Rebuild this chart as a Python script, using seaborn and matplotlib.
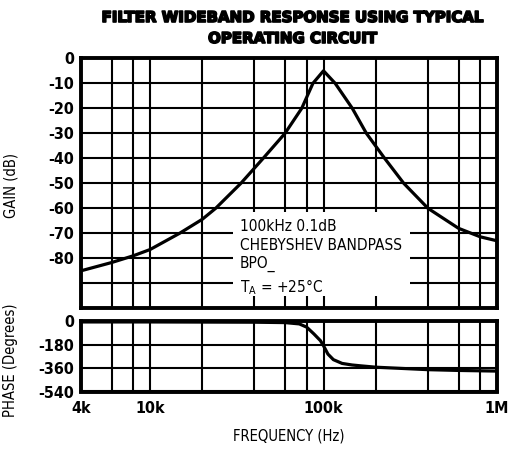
import matplotlib
matplotlib.use("Agg")
import matplotlib.pyplot as plt
import seaborn as sns
import pandas as pd
from matplotlib.patches import Rectangle
from matplotlib.ticker import FixedLocator, NullFormatter
from matplotlib import font_manager as fm
import matplotlib.patheffects as pe

# ---------------- data ----------------
gain_freq = [4e3, 6e3, 8e3, 10e3, 14.8e3, 20e3, 23.9e3, 33.4e3, 44.9e3, 60e3,
             74.9e3, 86.9e3, 100e3, 116.7e3, 146.5e3, 176.6e3, 225e3, 290e3,
             400e3, 600e3, 800e3, 1e6]
gain_db = [-85, -81.7, -79, -76.5, -70, -64.4, -60, -50, -40, -30,
           -20, -10, -5, -10, -20, -30, -40, -50,
           -60, -68, -71.4, -73]

phase_freq = [4e3, 10e3, 20e3, 40e3, 60e3, 72.5e3, 80e3, 88e3, 96e3, 100e3,
              106e3, 114e3, 128e3, 146e3, 165e3, 200e3, 400e3, 600e3, 1e6]
phase_deg = [-5, -5, -6, -7, -10, -20, -45, -97, -149, -188,
             -252, -295, -324, -336, -343, -353, -372, -378, -383]

gain_ticks = [0, -10, -20, -30, -40, -50, -60, -70, -80, -90, -100]
gain_labels = ["0", "-10", "-20", "-30", "-40", "-50", "-60", "-70", "-80", "", ""]
phase_ticks = [0, -180, -360, -540]
phase_labels = ["0", "-180", "-360", "-540"]
x_major = [4e3, 10e3, 100e3, 1e6]
x_major_labels = ["4k", "10k", "100k", "1M"]
x_grid = [6e3, 8e3, 20e3, 40e3, 60e3, 80e3, 200e3, 400e3, 600e3, 800e3]

title_text = "FILTER WIDEBAND RESPONSE USING TYPICAL\nOPERATING CIRCUIT"
note_text = "100kHz 0.1dB\nCHEBYSHEV BANDPASS\nBPO_\nT$_\\mathregular{A}$ = +25°C"

# ---------------- styling ----------------
sns.set_style("white")

# pick a narrow font if one is installed
narrow_props = dict(family=["DejaVu Sans"], stretch="normal")
scale = 0.82
try:
    p = fm.findfont(fm.FontProperties(family="Liberation Sans Narrow"),
                    fallback_to_default=False)
    if "Narrow" in p:
        narrow_props = dict(family=["Liberation Sans Narrow", "DejaVu Sans"],
                            stretch="normal")
        scale = 1.0
except Exception:
    pass
if scale != 1.0:
    try:
        p = fm.findfont(fm.FontProperties(family="DejaVu Sans", stretch="condensed"),
                        fallback_to_default=False)
        if "Condensed" in p:
            narrow_props = dict(family=["DejaVu Sans"], stretch="condensed")
            scale = 0.92
    except Exception:
        pass

plt.rcParams["font.family"] = narrow_props["family"]
plt.rcParams["text.color"] = "black"
plt.rcParams["xtick.color"] = "black"
plt.rcParams["ytick.color"] = "black"
plt.rcParams["axes.labelcolor"] = "black"

W, H = 512, 451
fig = plt.figure(figsize=(W / 100, H / 100), dpi=100)

def fx(px):
    return px / W

def fy(py):
    return 1 - py / H

ax_g = fig.add_axes([fx(81), fy(308.3), fx(497) - fx(81), fy(58.3) - fy(308.3)])
ax_p = fig.add_axes([fx(81), fy(391.5), fx(497) - fx(81), fy(321.3) - fy(391.5)])

df_g = pd.DataFrame({"freq": gain_freq, "gain": gain_db})
df_p = pd.DataFrame({"freq": phase_freq, "phase": phase_deg})

sns.lineplot(data=df_g, x="freq", y="gain", ax=ax_g, color="black", lw=2.3,
             sort=False, zorder=5)
sns.lineplot(data=df_p, x="freq", y="phase", ax=ax_p, color="black", lw=2.3,
             sort=False, zorder=5)

tick_font = dict(family=narrow_props["family"], stretch=narrow_props["stretch"],
                 size=12.5 * scale, weight="bold", color="black")
label_font = dict(family=narrow_props["family"], stretch=narrow_props["stretch"],
                  size=11.5 * scale, color="black")

for ax in (ax_g, ax_p):
    ax.set_xscale("log")
    ax.set_xlim(4e3, 1e6)
    ax.xaxis.set_major_locator(FixedLocator(x_major))
    ax.xaxis.set_minor_locator(FixedLocator(x_grid))
    ax.xaxis.set_minor_formatter(NullFormatter())
    ax.grid(True, which="both", axis="x", color="black", lw=1.5)
    ax.grid(True, which="major", axis="y", color="black", lw=1.5)
    ax.tick_params(which="both", length=0, pad=5)
    for s in ax.spines.values():
        s.set_linewidth(2.8)
        s.set_color("black")
        s.set_visible(True)
    ax.set_axisbelow(True)

ax_g.set_ylim(-100, 0)
ax_g.set_yticks(gain_ticks)
ax_g.set_yticklabels(gain_labels, fontdict=tick_font)
ax_g.set_xticklabels([])
ax_g.set_xlabel("")
ax_g.set_ylabel("GAIN (dB)", fontdict=label_font)
ax_g.yaxis.set_label_coords((19 - 81) / 416, 0.49)

ax_p.set_ylim(-540, 0)
ax_p.set_yticks(phase_ticks)
ax_p.set_yticklabels(phase_labels, fontdict=tick_font)
ax_p.set_xticklabels(x_major_labels, fontdict=tick_font)
ax_p.tick_params(axis="x", pad=7)
ax_p.set_ylabel("PHASE (Degrees)", fontdict=label_font)
ax_p.yaxis.set_label_coords((18.5 - 81) / 416, 0.45)
ax_p.set_xlabel("FREQUENCY (Hz)", fontdict=label_font, labelpad=9)

# white box behind the annotation (hides the grid there)
ax_g.add_patch(Rectangle(((233 - 81) / 416, (308.3 - 296) / 250),
                         (410 - 233) / 416, (296 - 212) / 250,
                         transform=ax_g.transAxes, facecolor="white",
                         edgecolor="none", zorder=3))
ax_g.text((240 - 81) / 416, (308.3 - 219) / 250, note_text,
          transform=ax_g.transAxes, ha="left", va="top", fontsize=12 * scale,
          family=narrow_props["family"], stretch=narrow_props["stretch"],
          linespacing=1.3, zorder=4, color="black")

fig.text(fx(293), fy(28), title_text, ha="center", va="center",
         fontsize=10.8, weight="heavy", family=["DejaVu Sans"], color="black",
         linespacing=1.5,
         path_effects=[pe.withStroke(linewidth=1.2, foreground="black")])

fig.savefig("out.png", dpi=100)
